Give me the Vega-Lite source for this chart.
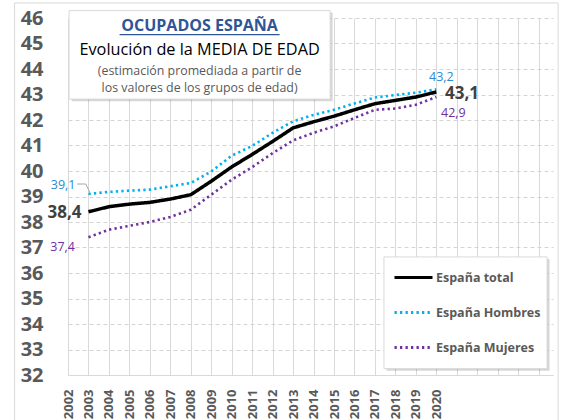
{
  "$schema": "https://vega.github.io/schema/vega-lite/v6.json",
  "width": 485,
  "height": 357,
  "autosize": {"type": "none"},
  "padding": {"left": 68, "top": 18, "right": 11, "bottom": 45},
  "background": "white",
  "datasets": {
    "edad": [
      {"year": 2003, "serie": "España total", "value": 38.4},
      {"year": 2004, "serie": "España total", "value": 38.6},
      {"year": 2005, "serie": "España total", "value": 38.7},
      {"year": 2006, "serie": "España total", "value": 38.77},
      {"year": 2007, "serie": "España total", "value": 38.9},
      {"year": 2008, "serie": "España total", "value": 39.07},
      {"year": 2009, "serie": "España total", "value": 39.6},
      {"year": 2010, "serie": "España total", "value": 40.16},
      {"year": 2011, "serie": "España total", "value": 40.65},
      {"year": 2012, "serie": "España total", "value": 41.16},
      {"year": 2013, "serie": "España total", "value": 41.69},
      {"year": 2014, "serie": "España total", "value": 41.93},
      {"year": 2015, "serie": "España total", "value": 42.15},
      {"year": 2016, "serie": "España total", "value": 42.4},
      {"year": 2017, "serie": "España total", "value": 42.64},
      {"year": 2018, "serie": "España total", "value": 42.77},
      {"year": 2019, "serie": "España total", "value": 42.9},
      {"year": 2020, "serie": "España total", "value": 43.1},
      {"year": 2003, "serie": "España Hombres", "value": 39.1},
      {"year": 2004, "serie": "España Hombres", "value": 39.18},
      {"year": 2005, "serie": "España Hombres", "value": 39.23},
      {"year": 2006, "serie": "España Hombres", "value": 39.27},
      {"year": 2007, "serie": "España Hombres", "value": 39.4},
      {"year": 2008, "serie": "España Hombres", "value": 39.53},
      {"year": 2009, "serie": "España Hombres", "value": 39.98},
      {"year": 2010, "serie": "España Hombres", "value": 40.6},
      {"year": 2011, "serie": "España Hombres", "value": 40.98},
      {"year": 2012, "serie": "España Hombres", "value": 41.5},
      {"year": 2013, "serie": "España Hombres", "value": 41.95},
      {"year": 2014, "serie": "España Hombres", "value": 42.2},
      {"year": 2015, "serie": "España Hombres", "value": 42.4},
      {"year": 2016, "serie": "España Hombres", "value": 42.65},
      {"year": 2017, "serie": "España Hombres", "value": 42.88},
      {"year": 2018, "serie": "España Hombres", "value": 42.98},
      {"year": 2019, "serie": "España Hombres", "value": 43.07},
      {"year": 2020, "serie": "España Hombres", "value": 43.2},
      {"year": 2003, "serie": "España Mujeres", "value": 37.4},
      {"year": 2004, "serie": "España Mujeres", "value": 37.7},
      {"year": 2005, "serie": "España Mujeres", "value": 37.85},
      {"year": 2006, "serie": "España Mujeres", "value": 38.0},
      {"year": 2007, "serie": "España Mujeres", "value": 38.2},
      {"year": 2008, "serie": "España Mujeres", "value": 38.48},
      {"year": 2009, "serie": "España Mujeres", "value": 39.07},
      {"year": 2010, "serie": "España Mujeres", "value": 39.66},
      {"year": 2011, "serie": "España Mujeres", "value": 40.15},
      {"year": 2012, "serie": "España Mujeres", "value": 40.7},
      {"year": 2013, "serie": "España Mujeres", "value": 41.2},
      {"year": 2014, "serie": "España Mujeres", "value": 41.5},
      {"year": 2015, "serie": "España Mujeres", "value": 41.75},
      {"year": 2016, "serie": "España Mujeres", "value": 42.08},
      {"year": 2017, "serie": "España Mujeres", "value": 42.4},
      {"year": 2018, "serie": "España Mujeres", "value": 42.45},
      {"year": 2019, "serie": "España Mujeres", "value": 42.6},
      {"year": 2020, "serie": "España Mujeres", "value": 42.9}
    ]
  },
  "data": {"name": "edad"},
  "encoding": {
    "x": {
      "field": "year", "type": "quantitative",
      "scale": {"domain": [2002, 2025.7], "nice": false, "zero": false},
      "axis": {
        "values": [2002,2003,2004,2005,2006,2007,2008,2009,2010,2011,2012,2013,2014,2015,2016,2017,2018,2019,2020,2021,2022,2023,2024,2025],
        "format": "d",
        "labelExpr": "datum.value <= 2020 ? datum.label : ''",
        "labelAngle": 270, "labelAlign": "right", "labelBaseline": "middle",
        "labelPadding": 14, "labelFont": "Open Sans", "labelFontSize": 13, "labelFontWeight": "bold",
        "labelColor": "#595959", "labelOverlap": false, "labelFlush": false,
        "ticks": false, "domain": true, "domainColor": "#d9d9d9",
        "grid": true, "gridColor": "#d9d9d9", "gridWidth": 1,
        "title": null, "zindex": 0
      }
    },
    "y": {
      "field": "value", "type": "quantitative",
      "scale": {"domain": [32, 46], "nice": false, "zero": false},
      "axis": {
        "values": [32,32.5,33,33.5,34,34.5,35,35.5,36,36.5,37,37.5,38,38.5,39,39.5,40,40.5,41,41.5,42,42.5,43,43.5,44,44.5,45,45.5,46],
        "format": "d",
        "labelExpr": "datum.value % 1 == 0 ? datum.label : ''",
        "labelFont": "Open Sans", "labelFontSize": 20, "labelFontWeight": "bold",
        "labelColor": "#595959", "labelPadding": 25, "labelOverlap": false, "labelFlush": false,
        "ticks": false, "domain": false,
        "grid": true, "gridDash": [4, 3],
        "gridColor": {"condition": {"test": "datum.value % 1 == 0", "value": "#d4d4d4"}, "value": "#e6e6e6"},
        "title": null, "zindex": 0
      }
    }
  },
  "layer": [
    {
      "transform": [{"filter": "datum.serie == 'España total' && datum.year == 2003"}],
      "mark": {"type": "rect", "fill": null, "stroke": "#d9d9d9", "strokeWidth": 1},
      "encoding": {"x": {"datum": 1999.39}, "x2": {"datum": 2025.95}, "y": {"datum": 46.59}, "y2": {"datum": 30.04}}
    },
    {
      "transform": [{"filter": "datum.serie == 'España Mujeres'"}],
      "mark": {"type": "line", "strokeWidth": 2.6},
      "encoding": {
        "color": {"field": "serie", "type": "nominal", "scale": {"domain": ["España total", "España Hombres", "España Mujeres"], "range": ["#000000", "#00B0F0", "#7030A0"]}},
        "strokeDash": {"field": "serie", "type": "nominal", "scale": {"domain": ["España total", "España Hombres", "España Mujeres"], "range": [[1, 0], [2.3, 3.2], [2.3, 3.2]]}}
      }
    },
    {
      "transform": [{"filter": "datum.serie == 'España Hombres'"}],
      "mark": {"type": "line", "strokeWidth": 2.6},
      "encoding": {
        "color": {"field": "serie", "type": "nominal"},
        "strokeDash": {"field": "serie", "type": "nominal"}
      }
    },
    {
      "transform": [{"filter": "datum.serie == 'España total'"}],
      "mark": {"type": "line", "strokeWidth": 3.5},
      "encoding": {
        "color": {"field": "serie", "type": "nominal"},
        "strokeDash": {"field": "serie", "type": "nominal"}
      }
    },
    {
      "transform": [{"filter": "datum.serie == 'España Hombres' && datum.year == 2003"}],
      "mark": {"type": "rule", "color": "#a6a6a6", "strokeWidth": 1},
      "encoding": {"x": {"datum": 2002.45}, "x2": {"datum": 2002.87}, "y": {"datum": 39.49}, "y2": {"datum": 39.49}}
    },
    {
      "transform": [{"filter": "datum.serie == 'España Hombres' && datum.year == 2003"}],
      "mark": {"type": "rule", "color": "#a6a6a6", "strokeWidth": 1},
      "encoding": {"x": {"datum": 2002.87}, "x2": {"datum": 2003.07}, "y": {"datum": 39.49}, "y2": {"datum": 39.15}}
    },
    {
      "transform": [{"filter": "datum.serie == 'España total' && datum.year == 2003"}],
      "mark": {"type": "text", "align": "right", "baseline": "middle", "dx": -7, "dy": 1.5, "font": "Open Sans", "fontSize": 17, "fontWeight": "bold", "color": "#404040"},
      "encoding": {"text": {"field": "value", "type": "quantitative", "format": ".1f"}}
    },
    {
      "transform": [{"filter": "datum.serie == 'España Hombres' && datum.year == 2003"}],
      "mark": {"type": "text", "align": "right", "baseline": "middle", "dx": -13, "dy": -9, "font": "Open Sans", "fontSize": 12.5, "color": "#2A8BD5"},
      "encoding": {"text": {"field": "value", "type": "quantitative", "format": ".1f"}}
    },
    {
      "transform": [{"filter": "datum.serie == 'España Mujeres' && datum.year == 2003"}],
      "mark": {"type": "text", "align": "right", "baseline": "middle", "dx": -13.5, "dy": 9.5, "font": "Open Sans", "fontSize": 12.5, "color": "#7030A0"},
      "encoding": {"text": {"field": "value", "type": "quantitative", "format": ".1f"}}
    },
    {
      "transform": [{"filter": "datum.serie == 'España Hombres' && datum.year == 2020"}],
      "mark": {"type": "text", "align": "center", "baseline": "middle", "dx": 5, "dy": -12.7, "font": "Open Sans", "fontSize": 12.5, "color": "#2A8BD5"},
      "encoding": {"text": {"field": "value", "type": "quantitative", "format": ".1f"}}
    },
    {
      "transform": [{"filter": "datum.serie == 'España total' && datum.year == 2020"}],
      "mark": {"type": "text", "align": "left", "baseline": "middle", "dx": 8.7, "dy": 2.3, "font": "Open Sans", "fontSize": 17, "fontWeight": "bold", "color": "#404040"},
      "encoding": {"text": {"field": "value", "type": "quantitative", "format": ".1f"}}
    },
    {
      "transform": [{"filter": "datum.serie == 'España Mujeres' && datum.year == 2020"}],
      "mark": {"type": "text", "align": "left", "baseline": "middle", "dx": 4.7, "dy": 16, "font": "Open Sans", "fontSize": 12.5, "color": "#7030A0"},
      "encoding": {"text": {"field": "value", "type": "quantitative", "format": ".1f"}}
    },
    {
      "transform": [{"filter": "datum.serie == 'España total' && datum.year == 2003"}],
      "mark": {"type": "rect", "fill": "#000000", "opacity": 0.16},
      "encoding": {"x": {"datum": 2002.18}, "x2": {"datum": 2014.93}, "y": {"datum": 46.22}, "y2": {"datum": 42.74}}
    },
    {
      "transform": [{"filter": "datum.serie == 'España total' && datum.year == 2003"}],
      "mark": {"type": "rect", "fill": "white", "stroke": "#d9d9d9", "strokeWidth": 1},
      "encoding": {"x": {"datum": 2002.05}, "x2": {"datum": 2014.81}, "y": {"datum": 46.29}, "y2": {"datum": 42.82}}
    },
    {
      "transform": [{"filter": "datum.serie == 'España total' && datum.year == 2003"}],
      "mark": {"type": "text", "text": "OCUPADOS ESPAÑA", "align": "center", "baseline": "middle", "font": "Open Sans", "fontSize": 16, "fontWeight": "bold", "color": "#2F5597"},
      "encoding": {"x": {"datum": 2008.43}, "y": {"datum": 45.69}}
    },
    {
      "transform": [{"filter": "datum.serie == 'España total' && datum.year == 2003"}],
      "mark": {"type": "rule", "color": "#2F5597", "strokeWidth": 1.2},
      "encoding": {"x": {"datum": 2004.52}, "x2": {"datum": 2012.34}, "y": {"datum": 45.35}}
    },
    {
      "transform": [{"filter": "datum.serie == 'España total' && datum.year == 2003"}],
      "mark": {"type": "text", "text": "Evolución de la MEDIA DE EDAD", "align": "center", "baseline": "middle", "font": "Open Sans", "fontSize": 16.3, "color": "#000000"},
      "encoding": {"x": {"datum": 2008.43}, "y": {"datum": 44.75}}
    },
    {
      "transform": [{"filter": "datum.serie == 'España total' && datum.year == 2003"}],
      "mark": {"type": "text", "text": "(estimación promediada a partir de", "align": "center", "baseline": "middle", "font": "Open Sans", "fontSize": 12.4, "color": "#595959"},
      "encoding": {"x": {"datum": 2008.43}, "y": {"datum": 43.92}}
    },
    {
      "transform": [{"filter": "datum.serie == 'España total' && datum.year == 2003"}],
      "mark": {"type": "text", "text": "los valores de los grupos de edad)", "align": "center", "baseline": "middle", "font": "Open Sans", "fontSize": 12.4, "color": "#595959"},
      "encoding": {"x": {"datum": 2008.43}, "y": {"datum": 43.25}}
    },
    {
      "transform": [{"filter": "datum.serie == 'España total' && datum.year == 2003"}],
      "mark": {"type": "rect", "fill": "#000000", "opacity": 0.16},
      "encoding": {"x": {"datum": 2017.56}, "x2": {"datum": 2025.53}, "y": {"datum": 36.55}, "y2": {"datum": 32.17}}
    },
    {
      "transform": [{"filter": "datum.serie == 'España total' && datum.year == 2003"}],
      "mark": {"type": "rect", "fill": "white", "stroke": "#d9d9d9", "strokeWidth": 1},
      "encoding": {"x": {"datum": 2017.44}, "x2": {"datum": 2025.41}, "y": {"datum": 36.63}, "y2": {"datum": 32.25}}
    }
  ],
  "config": {
    "locale": {"number": {"decimal": ",", "thousands": ".", "grouping": [3], "currency": ["", " €"]}},
    "view": {"stroke": null},
    "legend": {
      "title": null, "orient": "none", "legendX": 325, "legendY": 239,
      "padding": 0, "rowPadding": 8,
      "symbolType": "stroke", "symbolSize": 1444, "symbolStrokeWidth": 3,
      "labelFont": "Open Sans", "labelFontSize": 12.5, "labelFontWeight": "bold", "labelColor": "#595959",
      "labelOffset": 2
    }
  }
}
